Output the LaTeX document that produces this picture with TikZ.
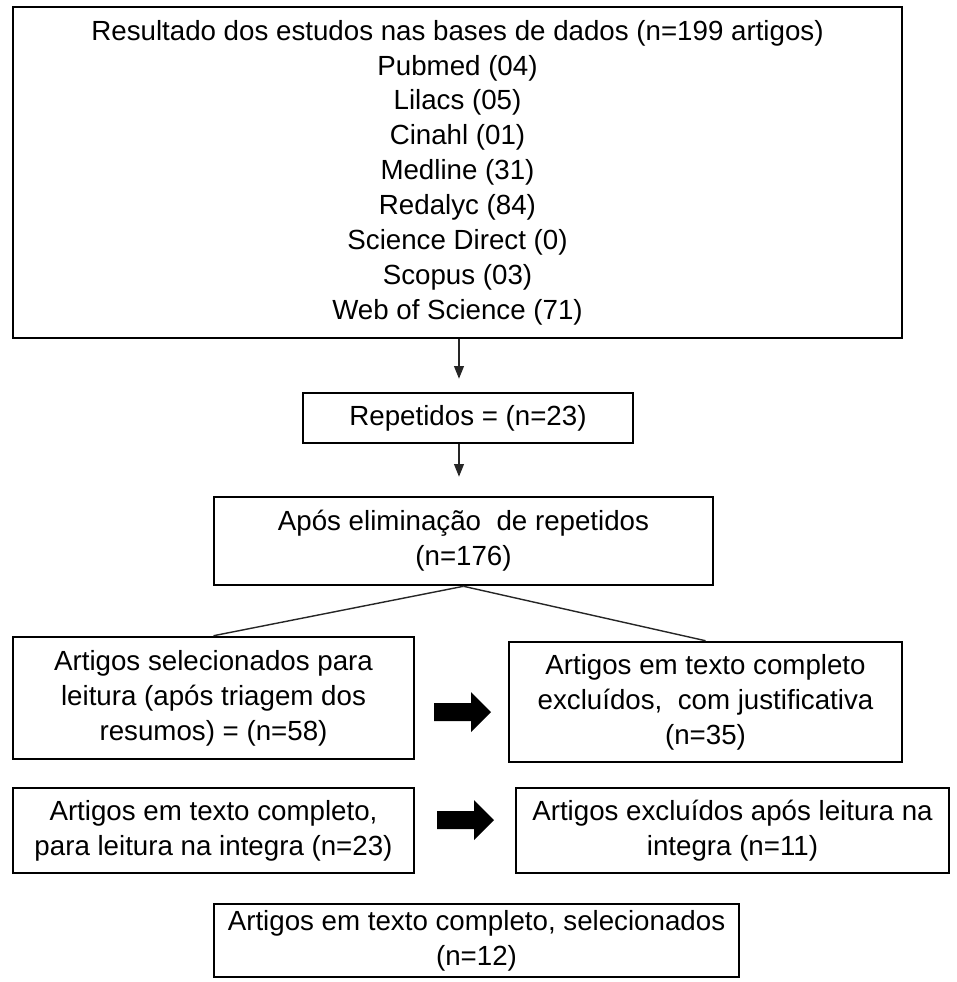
\documentclass[tikz,border=0pt]{standalone}
\usepackage{fontspec}
\setmainfont{Liberation Sans}
\usetikzlibrary{arrows.meta}
\begin{document}
\begin{tikzpicture}[x=0.025cm,y=-0.025cm,>={Triangle[width=7pt,length=9pt]},
    caixa/.style={draw,line width=1.8pt,align=center,inner sep=0pt,
      font=\fontsize{19.7}{24.8}\selectfont},
    liga/.style={line width=1pt,black!85}]
      \useasboundingbox (0,0) rectangle (956,982);
      % bases de dados
      \node [caixa,minimum width=22.225cm,minimum height=8.275cm] (res) at (457.5,172.5)
        {Resultado dos estudos nas bases de dados (n=199 artigos)\\
         Pubmed (04)\\ Lilacs (05)\\ Cinahl (01)\\ Medline (31)\\ Redalyc (84)\\
         Science Direct (0)\\ Scopus (03)\\ Web of Science (71)};
      \node [caixa,minimum width=8.25cm,minimum height=1.25cm] (rep) at (468,418)
        {Repetidos = (n=23)};
      \node [caixa,minimum width=12.475cm,minimum height=2.2cm] (apos) at (463.5,541)
        {Após eliminação~ de repetidos\\ (n=176)};
      % triagem
      \node [caixa,minimum width=10.025cm,minimum height=3.05cm] (sel) at (213.5,698)
        {Artigos selecionados para\\ leitura (após triagem dos\\ resumos) = (n=58)};
      \node [caixa,minimum width=9.825cm,minimum height=3cm] (excl) at (705.5,702)
        {Artigos em texto completo\\ excluídos,~ com justificativa\\ (n=35)};
      \node [caixa,minimum width=10.025cm,minimum height=2.125cm] (integ) at (213.5,830.5)
        {Artigos em texto completo,\\ para leitura na integra (n=23)};
      \node [caixa,minimum width=10.825cm,minimum height=2.125cm] (exclb) at (732.5,830.5)
        {Artigos excluídos após leitura na\\ integra (n=11)};
      \node [caixa,minimum width=13.125cm,minimum height=1.825cm] (fim) at (476.5,940.5)
        {Artigos em texto completo, selecionados\\ (n=12)};
      % setas finas
      \coordinate (s1) at ([xshift=-0.225cm]rep.north);
      \coordinate (s2) at ([xshift=-0.225cm]rep.south);
      \draw [liga,->,shorten >=0.325cm] (s1 |- res.south) -- (s1);
      \draw [liga,->,shorten >=0.475cm] (s2) -- (s2 |- apos.north);
      \draw [liga] (apos.south) -- (sel.north);
      \draw [liga] (apos.south) -- (excl.north);
      % setas cheias
      \def\setacheia{-- ++(0,-9) -- ++(37,0) -- ++(0,-11) -- ++(20,20)
        -- ++(-20,20) -- ++(0,-11) -- ++(-37,0) -- cycle}
      \fill (434,712) \setacheia;
      \fill (437,820) \setacheia;
\end{tikzpicture}
\end{document}
